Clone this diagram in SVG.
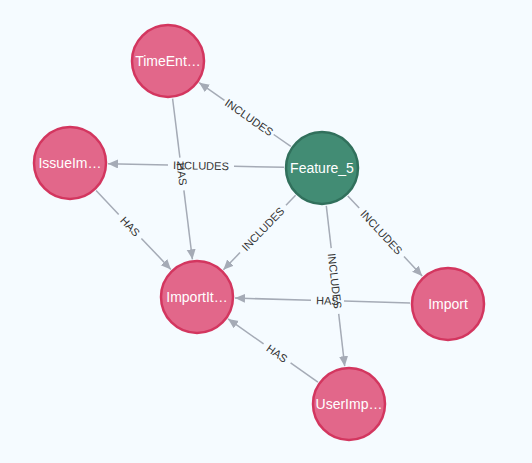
<svg xmlns="http://www.w3.org/2000/svg" width="532" height="463" viewBox="0 0 532 463">
<style>
.e{stroke:#a5abb6;stroke-width:1.5;fill:none}
.a{stroke:#a5abb6;stroke-width:1.5;fill:none;marker-end:url(#arr)}
.l{font-family:"Liberation Sans",Arial,sans-serif;font-size:11px;fill:#333;text-anchor:middle;dominant-baseline:central}
.p{fill:#e2678a;stroke:#d3365f;stroke-width:2.5}
.g{fill:#428c74;stroke:#31705c;stroke-width:2.5}
.t{font-family:"Liberation Sans",Arial,sans-serif;font-size:14px;fill:#fff;text-anchor:middle}
</style>
<defs>
<marker id="arr" markerUnits="userSpaceOnUse" markerWidth="11" markerHeight="10" refX="10" refY="4.5" orient="auto">
<path d="M0,0 L10,4.5 L0,9 z" fill="#a5abb6"/>
</marker>
</defs>
<rect width="532" height="463" fill="#f5fbff"/>
<g id="connectors">
<path class="e" d="M290.8,146.3 L273.7,134.5"/><path class="a" d="M224.5,100.3 L199.2,82.7"/>
<text class="l" transform="translate(249.1,117.4) rotate(34.8)">INCLUDES</text>
<path class="e" d="M284,167.25 L234,166.3"/><path class="a" d="M168,165 L108,163.75"/>
<text class="l" transform="translate(201,165.6) rotate(1.1)">INCLUDES</text>
<path class="e" d="M295.6,195.3 L286,205.2"/><path class="a" d="M240,252.6 L223.4,269.7"/>
<text class="l" transform="translate(263,228.9) rotate(-45.9)">INCLUDES</text>
<path class="e" d="M347.8,195.9 L359.2,208.1"/><path class="a" d="M404,256.5 L422.2,276.1"/>
<text class="l" transform="translate(381.6,232.3) rotate(47.2)">INCLUDES</text>
<path class="e" d="M326.3,205.8 L331.2,248.2"/><path class="a" d="M338.7,313.8 L344.7,366.2"/>
<text class="l" transform="translate(334.9,281) rotate(83.5)">INCLUDES</text>
<path class="e" d="M172.6,98.7 L179.9,157.6"/><path class="a" d="M183.9,190.4 L192.4,259.3"/>
<text class="l" transform="translate(181.9,174) rotate(83)">HAS</text>
<path class="e" d="M96.1,190.6 L118.7,214.4"/><path class="a" d="M141.4,238.4 L170.9,269.4"/>
<text class="l" transform="translate(130.1,226.4) rotate(46.5)">HAS</text>
<path class="e" d="M410,302.9 L344,301.1"/><path class="a" d="M311,300.2 L235,298.1"/>
<text class="l" transform="translate(327.5,300.6) rotate(1.6)">HAS</text>
<path class="e" d="M317.9,382.1 L290.6,362.9"/><path class="a" d="M263.6,343.9 L228.1,318.9"/>
<text class="l" transform="translate(277.1,353.4) rotate(35.1)">HAS</text>
</g>
<g id="timeentry"><circle class="p" cx="168" cy="61" r="36"/><text class="t" x="168" y="66">TimeEnt…</text></g>
<g id="issueimport"><circle class="p" cx="70" cy="163" r="36"/><text class="t" x="70" y="168">IssueIm…</text></g>
<g id="feature5"><circle class="g" cx="322" cy="168" r="36"/><text class="t" x="322" y="173">Feature_5</text></g>
<g id="importitem"><circle class="p" cx="197" cy="297" r="36"/><text class="t" x="197" y="302">ImportIt…</text></g>
<g id="import"><circle class="p" cx="448" cy="304" r="36"/><text class="t" x="448" y="309">Import</text></g>
<g id="userimport"><circle class="p" cx="349" cy="404" r="36"/><text class="t" x="349" y="409">UserImp…</text></g>
</svg>
